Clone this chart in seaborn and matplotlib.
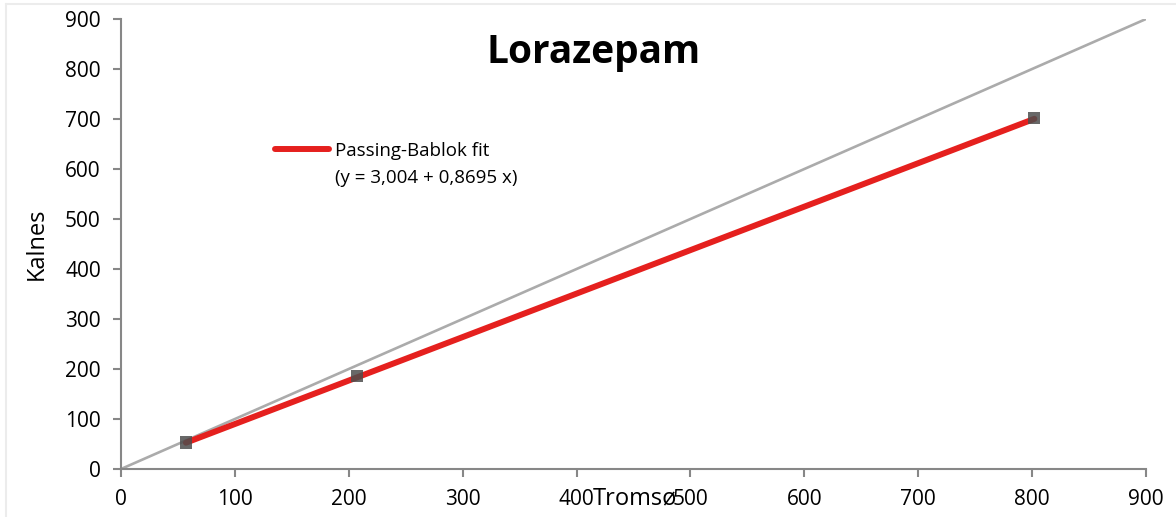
import matplotlib
matplotlib.use("Agg")
import matplotlib.pyplot as plt
from matplotlib.lines import Line2D
import numpy as np
import pandas as pd
import seaborn as sns

# Paired measurements of lorazepam (Tromsø vs Kalnes)
tromso = [57, 207, 802]
kalnes = [53, 186, 702]

# Passing-Bablok regression coefficients
intercept = 3.004
slope = 0.8695

axis_ticks = [0, 100, 200, 300, 400, 500, 600, 700, 800, 900]

sns.set_theme(style="white")
plt.rcParams["font.family"] = ["Open Sans", "DejaVu Sans"]
plt.rcParams["text.color"] = "black"

W, H = 1176, 517
fig = plt.figure(figsize=(W / 100, H / 100), dpi=100)
ax = fig.add_axes([121 / W, 1 - 469 / H, 1025 / W, 450 / H])

points = pd.DataFrame({"Tromsø": tromso, "Kalnes": kalnes})

# Line of identity
ident = pd.DataFrame({"x": [axis_ticks[0], axis_ticks[-1]],
                      "y": [axis_ticks[0], axis_ticks[-1]]})
sns.lineplot(data=ident, x="x", y="y", ax=ax, color="#ababab", lw=1.9,
             zorder=2)

# Passing-Bablok fit over the range of the data
fx = np.array([min(tromso), max(tromso)], dtype=float)
fit = pd.DataFrame({"x": fx, "y": intercept + slope * fx})
sns.lineplot(data=fit, x="x", y="y", ax=ax, color="#e5201e", lw=4.3,
             solid_capstyle="round", zorder=3)

sns.scatterplot(data=points, x="Tromsø", y="Kalnes", ax=ax, marker="s",
                s=75, color="#4d4d4d", alpha=0.85, edgecolor="none",
                zorder=4)

ax.set_xlim(axis_ticks[0], axis_ticks[-1])
ax.set_ylim(axis_ticks[0], axis_ticks[-1])
ax.set_xticks(axis_ticks)
ax.set_yticks(axis_ticks)

for side in ("top", "right"):
    ax.spines[side].set_visible(False)
for side in ("left", "bottom"):
    ax.spines[side].set_color("#878787")
    ax.spines[side].set_linewidth(1.5)
ax.tick_params(axis="both", which="major", direction="out", length=5.5,
               width=1.5, color="#878787", labelsize=15, pad=9,
               labelcolor="black", bottom=True, left=True)

ax.set_xlabel("Tromsø", fontsize=17, color="black")
ax.set_ylabel("Kalnes", fontsize=17, color="black")
ax.xaxis.set_label_coords(0.501, -0.066)
ax.xaxis.label.set_verticalalignment("center")
ax.yaxis.set_label_coords(-0.082, 0.5)
ax.yaxis.label.set_verticalalignment("center")

fig.text(594 / W, 1 - 53 / H, "Lorazepam", fontsize=28, fontweight="bold",
         ha="center", va="center", color="black")

handles = [Line2D([], [], color="#e5201e", lw=4.3, solid_capstyle="round"),
           Line2D([], [], color="none")]
labels = ["Passing-Bablok fit", "(y = 3,004 + 0,8695 x)"]
ax.legend(handles, labels, loc="upper left",
          bbox_to_anchor=(275 / W, 1 - 142 / H), bbox_transform=fig.transFigure,
          frameon=False, fontsize=13.5, handlelength=2.9, handletextpad=0.3,
          borderpad=0, borderaxespad=0, labelspacing=0.47, labelcolor="black")

# Light frame around the chart area
frame = "#ececec"
fig.add_artist(Line2D([6 / W, 1], [1 - 4 / H, 1 - 4 / H], color=frame, lw=1.5,
                      transform=fig.transFigure))
fig.add_artist(Line2D([6 / W, 6 / W], [0, 1 - 4 / H], color=frame, lw=1.5,
                      transform=fig.transFigure))

fig.savefig("out.png", dpi=100, facecolor="white")
